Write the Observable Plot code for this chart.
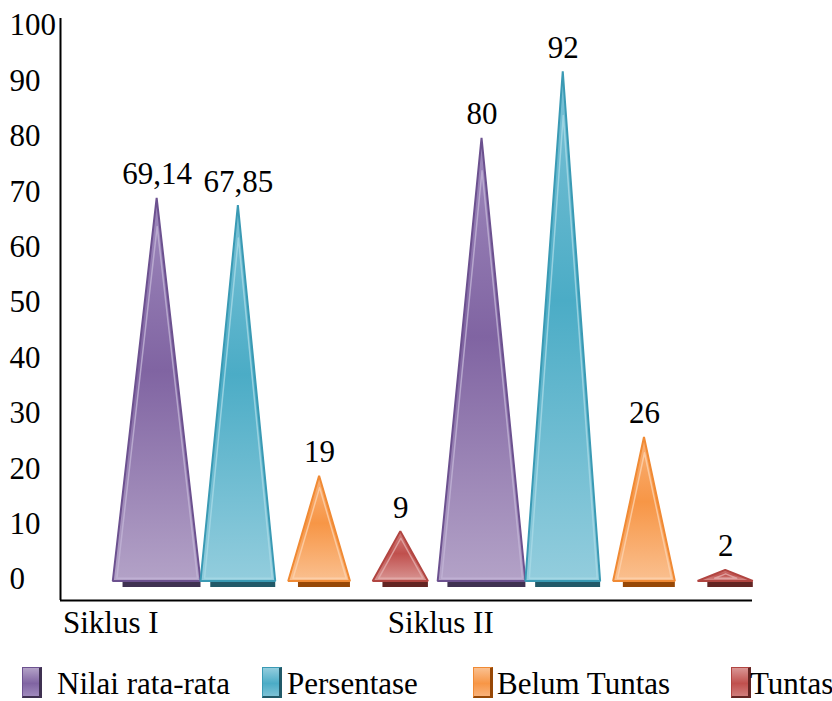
<!DOCTYPE html>
<html><head><meta charset="utf-8">
<script src="https://cdn.jsdelivr.net/npm/d3@7"></script>
<script src="https://cdn.jsdelivr.net/npm/@observablehq/plot@0.6"></script>
<style>
body{margin:0;background:#fff;font-family:"Liberation Serif","Times New Roman",serif;}
#legend{position:relative;height:51px;width:832px;}
.sw{position:absolute;top:17px;width:20px;height:31px;box-sizing:border-box;}
.lt{position:absolute;top:14px;line-height:40px;font-size:31px;color:#000;white-space:nowrap;font-family:"Liberation Serif","Times New Roman",serif;}
</style>
</head><body>
<div id="chart"></div>
<div id="legend"></div>
<script>
const categories = ["Siklus I", "Siklus II"];
const seriesNames = ["Nilai rata-rata", "Persentase", "Belum Tuntas", "Tuntas"];
const siklusI = [69.14, 67.85, 19, 9];
const siklusII = [80, 92, 26, 2];
const yTicks = [0, 10, 20, 30, 40, 50, 60, 70, 80, 90, 100];

const styles = [
  {main:"#8064A2", light:"#B3A2C7", top:"#9F8ABD", edge:"#6C518F", dark:"#3F3151", hi:"#C2B4D6", hw:0.54},
  {main:"#4BACC6", light:"#93CDDD", top:"#7CC2D6", edge:"#3A9AB4", dark:"#215968", hi:"#A8DAE6", hw:0.46},
  {main:"#F79646", light:"#FAC090", top:"#F9B27A", edge:"#F08A34", dark:"#974806", hi:"#FCD2AE", hw:0.38},
  {main:"#C0504D", light:"#D99694", top:"#D07E7C", edge:"#B14541", dark:"#632523", hi:"#E4AEAC", hw:0.34}
];
const legendSwatchLeft = [22, 262, 473, 731];
const legendTextLeft = [57, 287, 497, 750];

const values = [siklusI, siklusII];
const bars = [];
values.forEach((vals, g) => vals.forEach((v, s) => bars.push({
  g, s, i: g * 4 + s, v, key: g + "-" + s, label: String(v).replace(".", ",")
})));
const pts = bars.flatMap(b => {
  const hw = styles[b.s].hw;
  return [
    {key: b.key, s: b.s, x: b.i - hw, y: 0},
    {key: b.key, s: b.s, x: b.i, y: b.v},
    {key: b.key, s: b.s, x: b.i + hw, y: 0}
  ];
});

// inner bevel highlight: triangle shrunk toward its incenter (computed in pixel space, converted back)
const XD = [-1.19, 7.33], XR = [60, 752], YR = [581, 27];
const pxX = (832 - 80 - 60) / (XD[1] - XD[0]);
const pxY = (YR[0] - YR[1]) / 100;
const inner = bars.flatMap(b => {
  const W = styles[b.s].hw * pxX, H = b.v * pxY, d = 3.2;
  const r = (W * H) / (W + Math.hypot(W, H));
  const k = Math.max(0, (r - d) / r);
  const verts = [[-W, 0], [0, H], [W, 0], [-W, 0]];
  return verts.map(([vx, vy]) => ({
    key: b.key, s: b.s,
    x: b.i + (vx * k) / pxX,
    y: (r + (vy - r) * k) / pxY
  }));
});

const font = '"Liberation Serif","Times New Roman",serif';
const marks = [
  Plot.ruleX([XD[0]], {stroke: "#000", strokeWidth: 2}),
  Plot.ruleY([0], {dy: 19, stroke: "#000", strokeWidth: 2}),
  Plot.text(yTicks, {y: d => d, text: d => String(d), frameAnchor: "left", dx: -51, dy: -2, textAnchor: "start", fontSize: 31, fontFamily: font, fill: "#000"})
];
styles.forEach((st, s) => {
  const bs = bars.filter(b => b.s === s);
  marks.push(Plot.ruleY(bs, {y: 0, x1: b => b.i - st.hw + 0.12, x2: b => b.i + st.hw, stroke: st.dark, strokeWidth: 5, dy: 3}));
  marks.push(Plot.areaY(pts.filter(p => p.s === s), {x: "x", y: "y", z: "key", fill: `url(#grad${s})`, stroke: st.edge, strokeWidth: 2, strokeLinejoin: "miter"}));
  marks.push(Plot.line(inner.filter(p => p.s === s), {x: "x", y: "y", z: "key", stroke: st.hi, strokeWidth: 1.5, strokeOpacity: 0.8}));
});
marks.push(Plot.text(bars, {x: "i", y: "v", text: "label", dy: -24, fontSize: 31, fontFamily: font, fill: "#000"}));
marks.push(Plot.text(categories, {x: (d, k) => k * 4 - 1.16, frameAnchor: "bottom", dy: 32, textAnchor: "start", text: d => d, fontSize: 31, fontFamily: font, fill: "#000"}));

const chart = Plot.plot({
  width: 832, height: 650,
  marginLeft: 60, marginRight: 80, marginTop: 18, marginBottom: 50,
  x: {domain: XD, axis: null},
  y: {domain: [0, 100], range: YR, axis: null},
  style: {fontFamily: font, fontSize: "31px", color: "#000", background: "#fff", overflow: "visible"},
  marks
});

const NS = "http://www.w3.org/2000/svg";
const defs = document.createElementNS(NS, "defs");
styles.forEach((st, s) => {
  const lg = document.createElementNS(NS, "linearGradient");
  lg.setAttribute("id", "grad" + s);
  lg.setAttribute("x1", "0"); lg.setAttribute("y1", "0");
  lg.setAttribute("x2", "0"); lg.setAttribute("y2", "1");
  [[0, st.top], [0.45, st.main], [1, st.light]].forEach(([o, c]) => {
    const stop = document.createElementNS(NS, "stop");
    stop.setAttribute("offset", o);
    stop.setAttribute("stop-color", c);
    lg.appendChild(stop);
  });
  defs.appendChild(lg);
});
chart.insertBefore(defs, chart.firstChild);
document.getElementById("chart").appendChild(chart);

const legend = document.getElementById("legend");
seriesNames.forEach((name, s) => {
  const st = styles[s];
  const sw = document.createElement("div");
  sw.className = "sw";
  sw.style.left = legendSwatchLeft[s] + "px";
  sw.style.background = `linear-gradient(to bottom, ${st.light}, ${st.main} 55%, ${st.top})`;
  sw.style.border = `1px solid ${st.edge}`;
  sw.style.borderRight = `3px solid ${st.dark}`;
  sw.style.borderBottom = `2px solid ${st.dark}`;
  legend.appendChild(sw);
  const t = document.createElement("div");
  t.className = "lt";
  t.style.left = legendTextLeft[s] + "px";
  t.textContent = name;
  legend.appendChild(t);
});
</script>
</body></html>
